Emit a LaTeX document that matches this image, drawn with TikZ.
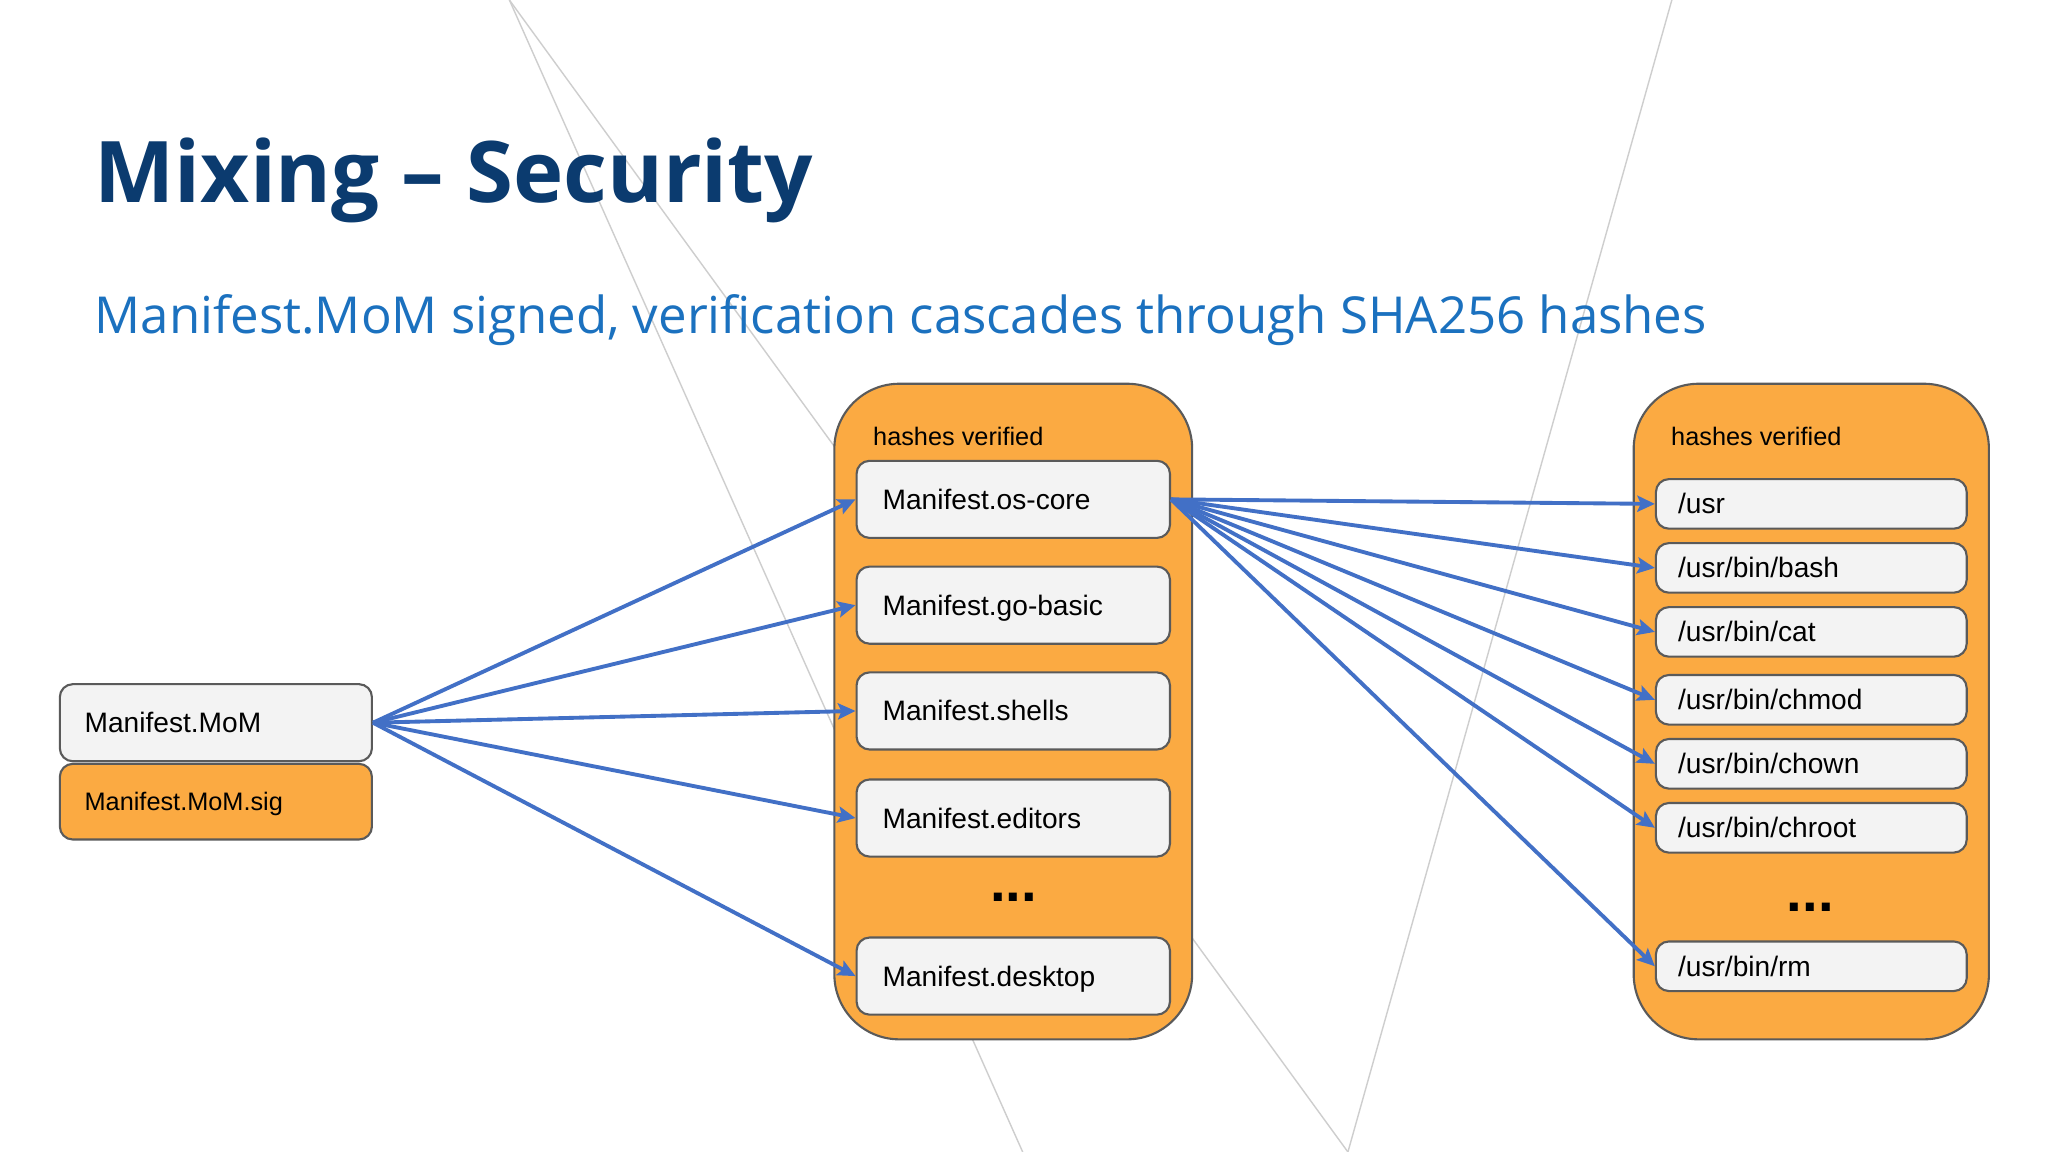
\documentclass[tikz,border=0pt]{standalone}
\usepackage{fontspec}
\setmainfont{Liberation Sans}
\newfontfamily\slidefont{Open Sans}
\usepackage{xcolor}
\usetikzlibrary{arrows.meta}

\definecolor{slideorange}{RGB}{251,170,66}
\definecolor{boxgray}{RGB}{243,243,243}
\definecolor{edgegray}{RGB}{90,90,90}
\definecolor{arrowblue}{RGB}{66,112,198}
\definecolor{titlenavy}{RGB}{11,59,111}
\definecolor{subblue}{RGB}{27,113,191}
\definecolor{bgline}{RGB}{206,206,206}

\begin{document}
\begin{tikzpicture}[x=0.01306cm, y=-0.01306cm,
    entry/.style={draw=edgegray, line width=0.6pt, fill=boxgray, rounded corners=0.13cm,
      anchor=north west, align=left, text height=5.7pt, text depth=0pt,
      font=\fontsize{8}{9.6}\selectfont},
    momentry/.style={entry, inner xsep=0.248cm, text width=2.625cm, minimum height=0.771cm},
    maniftentry/.style={entry, inner xsep=0.261cm, text width=2.612cm, minimum height=0.771cm},
    fileentry/.style={entry, inner xsep=0.222cm, text width=2.664cm, minimum height=0.496cm},
    group/.style={draw=edgegray, line width=0.6pt, fill=slideorange, rounded corners=0.65cm,
      anchor=north west, minimum height=6.556cm},
    grouplabel/.style={anchor=base west, inner sep=0pt, font=\fontsize{7.2}{8.6}\selectfont},
    gapdots/.style={font=\fontsize{16}{19}\bfseries\selectfont},
    fan/.style={draw=arrowblue, line width=1.1pt, -{Stealth[length=5pt,width=4.6pt,inset=1pt]}}]

  \useasboundingbox (0,0) rectangle (1568,882);
  \fill[white] (0,0) rectangle (1568,882);

  \draw[bgline, line width=0.4pt] (390,0) -- (1032,882);
  \draw[bgline, line width=0.4pt] (390,0) -- (783,882);
  \draw[bgline, line width=0.4pt] (1280,0) -- (1032,882);

  \node[anchor=base west, inner sep=0pt, text=titlenavy, font=\slidefont\bfseries\fontsize{24.2}{29}\selectfont] (title) at (72,155) {Mixing – Security};
  \node[anchor=base west, inner sep=0pt, text=subblue, font=\slidefont\fontsize{14.5}{17}\selectfont] (subtitle) at (72,255) {Manifest.MoM signed, verification cascades through SHA256 hashes};

  \node[momentry] (mom) at (45,523) {Manifest.MoM};
  \node[momentry, fill=slideorange, minimum height=0.757cm, text height=5.2pt, font=\fontsize{7.2}{8.6}\selectfont] (momsig) at (45,584) {Manifest.MoM.sig};

  \node[group, minimum width=3.578cm] (midgroup) at (638,293) {};
  \node[grouplabel] (midlabel) at (668,341) {hashes verified};
  \node[maniftentry] (oscore) at (655,352) {Manifest.os-core};
  \node[maniftentry] (gobasic) at (655,433) {Manifest.go-basic};
  \node[maniftentry] (shells) at (655,514) {Manifest.shells};
  \node[maniftentry] (editors) at (655,596) {Manifest.editors};
  \node[gapdots] (middots) at (776,687) {...};
  \node[maniftentry] (desktop) at (655,717) {Manifest.desktop};

  \node[group, minimum width=3.552cm] (rightgroup) at (1250,293) {};
  \node[grouplabel] (rightlabel) at (1279,341) {hashes verified};
  \node[fileentry] (usr) at (1267,366) {/usr};
  \node[fileentry] (bash) at (1267,415) {/usr/bin/bash};
  \node[fileentry] (cat) at (1267,464) {/usr/bin/cat};
  \node[fileentry] (chmod) at (1267,516) {/usr/bin/chmod};
  \node[fileentry] (chown) at (1267,565) {/usr/bin/chown};
  \node[fileentry] (chroot) at (1267,614) {/usr/bin/chroot};
  \node[gapdots] (rightdots) at (1386,695) {...};
  \node[fileentry] (rm) at (1267,720) {/usr/bin/rm};

  \draw[fan] (mom.east) -- (oscore.west);
  \draw[fan] (mom.east) -- (gobasic.west);
  \draw[fan] (mom.east) -- (shells.west);
  \draw[fan] (mom.east) -- (editors.west);
  \draw[fan] (mom.east) -- (desktop.west);

  \draw[fan] (oscore.east) -- (usr.west);
  \draw[fan] (oscore.east) -- (bash.west);
  \draw[fan] (oscore.east) -- (cat.west);
  \draw[fan] (oscore.east) -- (chmod.west);
  \draw[fan] (oscore.east) -- (chown.west);
  \draw[fan] (oscore.east) -- (chroot.west);
  \draw[fan] (oscore.east) -- (rm.west);
\end{tikzpicture}
\end{document}
